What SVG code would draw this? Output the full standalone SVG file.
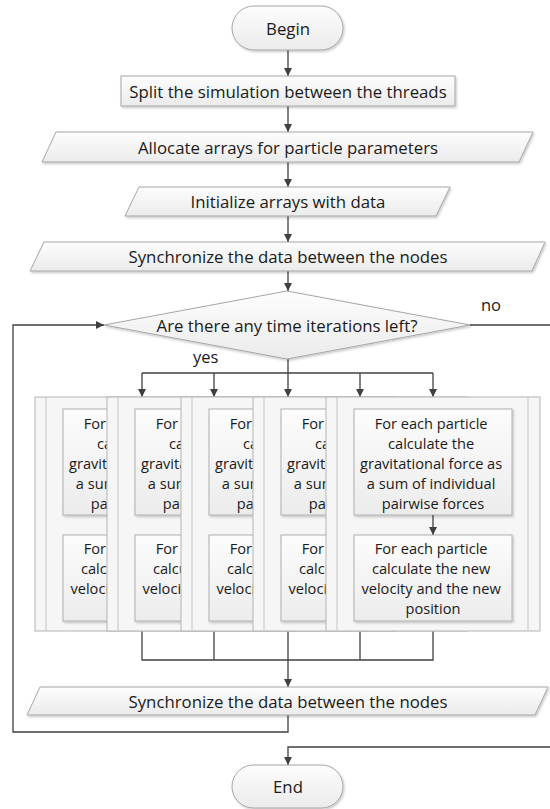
<svg xmlns="http://www.w3.org/2000/svg" xmlns:xlink="http://www.w3.org/1999/xlink" width="550" height="809" viewBox="0 0 550 809">
  <style>
    .shape { fill: url(#shapeFill); stroke: #a6a6a6; stroke-width: 1; filter: url(#shadow); }
    .frame { fill: #f6f6f6; stroke: #b4b4b4; stroke-width: 1; }
    .lane { fill: none; stroke: #c4c4c4; stroke-width: 1; }
    .box { fill: url(#boxFill); stroke: #b0b0b0; stroke-width: 1; filter: url(#shadow); }
    .label { font-family: "Open Sans", "Liberation Sans", sans-serif; font-size: 16.8px; fill: #1a1a1a; text-anchor: middle; dominant-baseline: central; }
    .inner { font-family: "Open Sans", "Liberation Sans", sans-serif; font-size: 14.6px; fill: #1a1a1a; text-anchor: middle; dominant-baseline: central; }
    .small { font-family: "Open Sans", "Liberation Sans", sans-serif; font-size: 16.5px; fill: #1a1a1a; }
    .wire { fill: none; stroke: #404040; stroke-width: 1.3; }
    .arrow { fill: none; stroke: #404040; stroke-width: 1.3; marker-end: url(#head); }
  </style>
  <defs>
    <linearGradient id="shapeFill" x1="0" y1="0" x2="0" y2="1">
      <stop offset="0" stop-color="#fdfdfd"/>
      <stop offset="1" stop-color="#ebebeb"/>
    </linearGradient>
    <linearGradient id="boxFill" x1="0" y1="0" x2="0" y2="1">
      <stop offset="0" stop-color="#fcfcfc"/>
      <stop offset="1" stop-color="#ececec"/>
    </linearGradient>
    <filter id="shadow" x="-10%" y="-10%" width="120%" height="130%">
      <feDropShadow dx="1.2" dy="1.5" stdDeviation="0.8" flood-color="#000" flood-opacity="0.22"/>
    </filter>
    <marker id="head" viewBox="0 0 10 10" refX="10" refY="5" markerWidth="9" markerHeight="8" markerUnits="userSpaceOnUse" orient="auto">
      <path d="M0,0 L10,5 L0,10 z" fill="#404040"/>
    </marker>
    <!-- one parallel thread: lane frame with its two process boxes -->
    <g id="threadFrame">
      <rect class="frame" x="0" y="0" width="214" height="234"/>
      <line class="lane" x1="11" y1="0" x2="11" y2="234"/>
      <line class="lane" x1="202" y1="0" x2="202" y2="234"/>
      <rect class="box" x="28" y="12" width="158" height="106"/>
      <text class="inner" x="107">
        <tspan x="107" y="26">For each particle</tspan>
        <tspan x="107" y="46">calculate the</tspan>
        <tspan x="107" y="66">gravitational force as</tspan>
        <tspan x="107" y="86">a sum of individual</tspan>
        <tspan x="107" y="106">pairwise forces</tspan>
      </text>
      <line class="arrow" x1="107" y1="118" x2="107" y2="138"/>
      <rect class="box" x="28" y="138" width="158" height="86"/>
      <text class="inner" x="107">
        <tspan x="107" y="151">For each particle</tspan>
        <tspan x="107" y="171">calculate the new</tspan>
        <tspan x="107" y="191">velocity and the new</tspan>
        <tspan x="107" y="211">position</tspan>
      </text>
    </g>
  </defs>

  <rect width="550" height="809" fill="#ffffff"/>

  <!-- connectors -->
  <g id="connectors">
    <line class="arrow" x1="288" y1="50" x2="288" y2="76"/>
    <line class="arrow" x1="288" y1="106" x2="288" y2="132"/>
    <line class="arrow" x1="288" y1="162" x2="288" y2="187"/>
    <line class="arrow" x1="288" y1="216" x2="288" y2="242"/>
    <line class="arrow" x1="288" y1="271" x2="288" y2="291"/>
    <!-- yes: fork to the threads -->
    <polyline class="wire" points="288,359 288,373"/>
    <polyline class="wire" points="142,373 433,373"/>
    <line class="arrow" x1="142" y1="373" x2="142" y2="397"/>
    <line class="arrow" x1="214" y1="373" x2="214" y2="397"/>
    <line class="arrow" x1="288" y1="373" x2="288" y2="397"/>
    <line class="arrow" x1="360" y1="373" x2="360" y2="397"/>
    <line class="arrow" x1="433" y1="373" x2="433" y2="397"/>
    <!-- join after the threads -->
    <polyline class="wire" points="142,631 142,660 433,660 433,631"/>
    <line class="wire" x1="214" y1="631" x2="214" y2="660"/>
    <line class="wire" x1="288" y1="631" x2="288" y2="660"/>
    <line class="wire" x1="360" y1="631" x2="360" y2="660"/>
    <line class="arrow" x1="288" y1="660" x2="288" y2="687"/>
    <!-- loop back to the test -->
    <polyline class="arrow" points="288,715 288,732 13,732 13,325 104,325"/>
    <!-- no: exit to End -->
    <polyline class="wire" points="470,325 552,325"/>
    <polyline class="arrow" points="552,747 288,747 288,765"/>
    <text class="small" x="481" y="311">no</text>
    <text class="small" x="193" y="363">yes</text>
  </g>

  <g id="begin">
    <rect class="shape" x="232" y="6" width="111" height="44" rx="22" ry="22"/>
    <text class="label" x="288" y="28">Begin</text>
  </g>

  <g id="split">
    <rect class="shape" x="121" y="76" width="334" height="30"/>
    <text class="label" x="288" y="91">Split the simulation between the threads</text>
  </g>

  <g id="allocate">
    <polygon class="shape" points="56,132 533,132 519,162 42,162"/>
    <text class="label" x="288" y="147">Allocate arrays for particle parameters</text>
  </g>

  <g id="initialize">
    <polygon class="shape" points="139,187 450,187 436,216 125,216"/>
    <text class="label" x="288" y="201.5">Initialize arrays with data</text>
  </g>

  <g id="sync1">
    <polygon class="shape" points="44,242 545,242 532,271 30,271"/>
    <text class="label" x="288" y="256.5">Synchronize the data between the nodes</text>
  </g>

  <g id="decision">
    <polygon class="shape" points="287,291 470,325 287,359 104,325"/>
    <text class="label" x="287" y="325">Are there any time iterations left?</text>
  </g>

  <g id="thread1" transform="translate(35,397)"><use xlink:href="#threadFrame"/></g>
  <g id="thread2" transform="translate(107,397)"><use xlink:href="#threadFrame"/></g>
  <g id="thread3" transform="translate(181,397)"><use xlink:href="#threadFrame"/></g>
  <g id="thread4" transform="translate(253,397)"><use xlink:href="#threadFrame"/></g>
  <g id="thread5" transform="translate(326,397)"><use xlink:href="#threadFrame"/></g>

  <g id="sync2">
    <polygon class="shape" points="40,687 548,687 535,715 27,715"/>
    <text class="label" x="288" y="701">Synchronize the data between the nodes</text>
  </g>

  <g id="end">
    <rect class="shape" x="232" y="765" width="111" height="43" rx="21.5" ry="21.5"/>
    <text class="label" x="288" y="786.5">End</text>
  </g>
</svg>
